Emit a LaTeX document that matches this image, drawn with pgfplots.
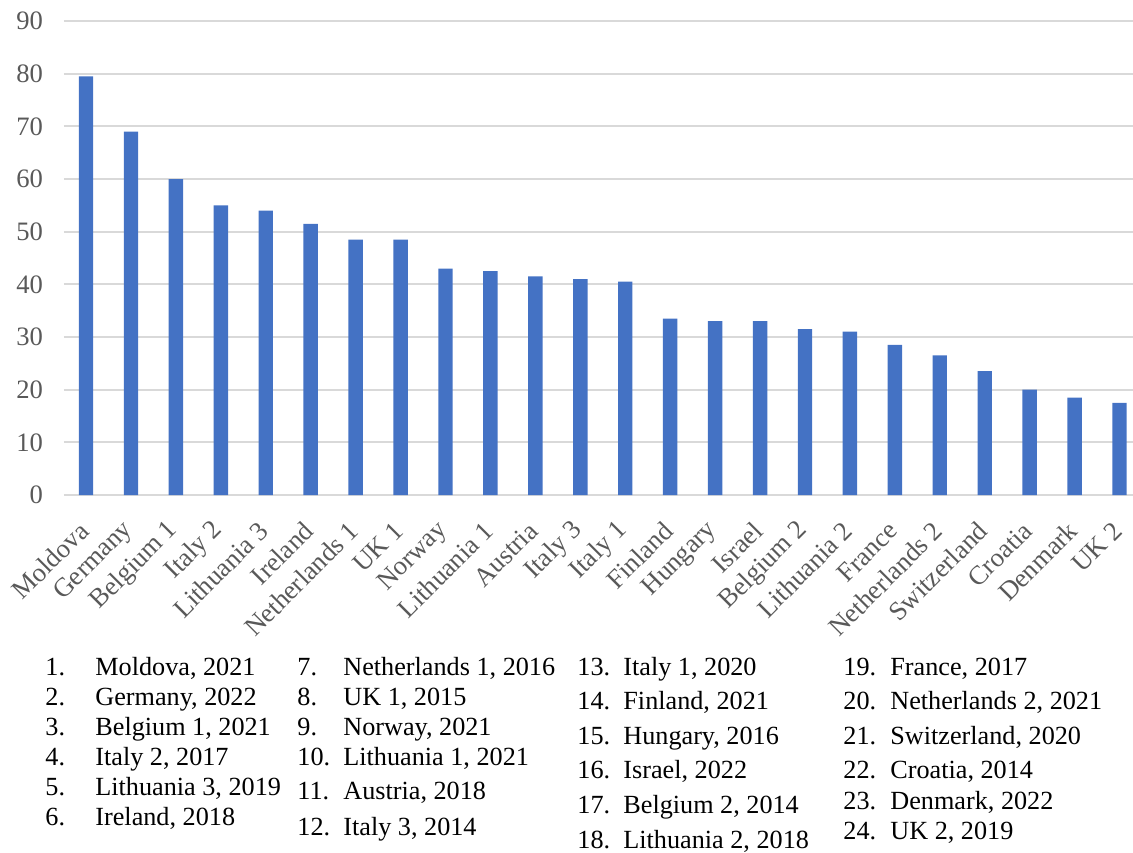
\documentclass[border=0pt]{standalone}
\usepackage{pgfplots}
\pgfplotsset{compat=1.18}
\usepackage{fontspec}
\setmainfont{Liberation Serif}
\definecolor{barblue}{HTML}{4472C4}
\definecolor{gridgray}{HTML}{D9D9D9}
\definecolor{labgray}{HTML}{595959}
\begin{document}
\begin{tikzpicture}
% picture frame: 1133 x 852 px at 0.5pt per px, origin at plot corner
\useasboundingbox (-32pt,247.5pt) rectangle (534.5pt,-178.5pt);
\begin{axis}[
  at={(0,0)}, anchor=south west,
  scale only axis,
  width=534.5pt, height=237pt,
  xmin=-0.49, xmax=23.3,
  ymin=0, ymax=90,
  ytick={0,10,...,90},
  xtick={0,...,23},
  xticklabels={Moldova, Germany, Belgium 1, Italy 2, Lithuania 3, Ireland,
    Netherlands 1, UK 1, Norway, Lithuania 1, Austria, Italy 3, Italy 1,
    Finland, Hungary, Israel, Belgium 2, Lithuania 2, France,
    Netherlands 2, Switzerland, Croatia, Denmark, UK 2},
  axis line style={draw=none},
  tick style={draw=none},
  ymajorgrids,
  grid style={gridgray, line width=1pt},
  ticklabel style={font=\fontsize{13.3}{15}\selectfont, text=labgray,
    /pgf/number format/assume math mode=true},
  yticklabel style={xshift=-7pt},
  xticklabel style={xshift=1.5pt, yshift=-9pt, rotate=45, anchor=east},
  ybar, bar width=7.2pt,
]
\addplot[fill=barblue, draw=none] coordinates {
  (0,79.5) (1,69) (2,60) (3,55) (4,54) (5,51.5) (6,48.5) (7,48.5)
  (8,43) (9,42.5) (10,41.5) (11,41) (12,40.5) (13,33.5) (14,33) (15,33)
  (16,31.5) (17,31) (18,28.5) (19,26.5) (20,23.5) (21,20) (22,18.5) (23,17.5)
};
\end{axis}
\begin{scope}[x=0.5pt, y=-0.5pt, shift={(-64,-495)},
  every node/.style={anchor=base west, inner sep=0pt,
    font=\fontsize{13.1}{15}\selectfont}]
  % column 1
  \node at (45,675) {1.};  \node at (95,675) {Moldova, 2021};
  \node at (45,705) {2.};  \node at (95,705) {Germany, 2022};
  \node at (45,735) {3.};  \node at (95,735) {Belgium 1, 2021};
  \node at (45,765) {4.};  \node at (95,765) {Italy 2, 2017};
  \node at (45,795) {5.};  \node at (95,795) {Lithuania 3, 2019};
  \node at (45,825) {6.};  \node at (95,825) {Ireland, 2018};
  % column 2
  \node at (297,675) {7.};  \node at (343,675) {Netherlands 1, 2016};
  \node at (297,705) {8.};  \node at (343,705) {UK 1, 2015};
  \node at (297,735) {9.};  \node at (343,735) {Norway, 2021};
  \node at (297,765) {10.}; \node at (343,765) {Lithuania 1, 2021};
  \node at (297,799) {11.}; \node at (343,799) {Austria, 2018};
  \node at (297,835) {12.}; \node at (343,835) {Italy 3, 2014};
  % column 3
  \node at (577,675) {13.}; \node at (623,675) {Italy 1, 2020};
  \node at (577,709) {14.}; \node at (623,709) {Finland, 2021};
  \node at (577,744) {15.}; \node at (623,744) {Hungary, 2016};
  \node at (577,778) {16.}; \node at (623,778) {Israel, 2022};
  \node at (577,813) {17.}; \node at (623,813) {Belgium 2, 2014};
  \node at (577,848) {18.}; \node at (623,848) {Lithuania 2, 2018};
  % column 4
  \node at (843,675) {19.}; \node at (890,675) {France, 2017};
  \node at (843,709) {20.}; \node at (890,709) {Netherlands 2, 2021};
  \node at (843,744) {21.}; \node at (890,744) {Switzerland, 2020};
  \node at (843,778) {22.}; \node at (890,778) {Croatia, 2014};
  \node at (843,809) {23.}; \node at (890,809) {Denmark, 2022};
  \node at (843,839) {24.}; \node at (890,839) {UK 2, 2019};
\end{scope}
\end{tikzpicture}
\end{document}
